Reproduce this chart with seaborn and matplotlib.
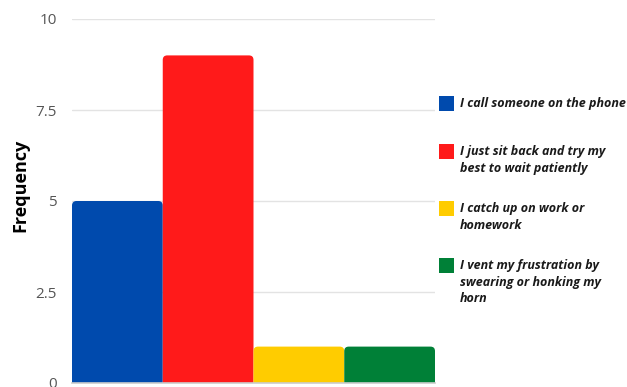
import matplotlib
matplotlib.use("Agg")
import matplotlib.pyplot as plt
from matplotlib.patches import FancyBboxPatch, Rectangle
import seaborn as sns
import pandas as pd

responses = [
    "I call someone on the phone",
    "I just sit back and try my\nbest to wait patiently",
    "I catch up on work or\nhomework",
    "I vent my frustration by\nswearing or honking my\nhorn",
]
frequency = [5, 9, 1, 1]
colors = ["#004aad", "#ff1a1a", "#ffcc00", "#008037"]
y_ticks = [0, 2.5, 5, 7.5, 10]
y_tick_labels = ["0", "2.5", "5", "7.5", "10"]

sns.set_theme(style="white")
plt.rcParams["font.family"] = ["Open Sans", "DejaVu Sans"]

W, H = 627, 387
fig = plt.figure(figsize=(W / 100, H / 100), dpi=100)
ax = fig.add_axes([72 / W, (H - 383) / H, (435 - 72) / W, (383 - 19) / H])

df = pd.DataFrame({"response": responses, "frequency": frequency})
sns.barplot(data=df, x="response", y="frequency", hue="response",
            palette=colors, width=1.0, legend=False, ax=ax, saturation=1)

ax.set_ylim(0, 10)
ax.set_xlim(-0.5, len(responses) - 0.5)

# rounded top corners: swap each bar for a FancyBboxPatch that extends below 0
fig.canvas.draw()
bbox = ax.get_window_extent()
ux = (ax.get_xlim()[1] - ax.get_xlim()[0]) / bbox.width
uy = (ax.get_ylim()[1] - ax.get_ylim()[0]) / bbox.height
radius_px = 4.5
for bar, col in zip(list(ax.patches), colors):
    x0, w, h = bar.get_x(), bar.get_width(), bar.get_height()
    bar.remove()
    ext = radius_px * 2 * uy
    rb = FancyBboxPatch((x0, -ext), w, h + ext,
                        boxstyle=f"round,pad=0,rounding_size={radius_px * ux}",
                        mutation_aspect=uy / ux, facecolor=col, edgecolor="none",
                        zorder=2, clip_on=True)
    ax.add_patch(rb)

ax.set_yticks(y_ticks)
ax.set_yticklabels(y_tick_labels, color="#555555", fontsize=11)
ax.tick_params(axis="y", length=0, pad=11)
ax.set_xticks([])
ax.set_xlabel("")
ax.set_ylabel("")
for s in ["top", "right", "left"]:
    ax.spines[s].set_visible(False)
ax.spines["bottom"].set_color("#cccccc")
ax.spines["bottom"].set_linewidth(1.2)
ax.spines["bottom"].set_zorder(3)
for t in y_ticks[1:]:
    ax.axhline(t, color="#e3e3e3", linewidth=1, zorder=0)

fig.text(20 / W, (H - 185) / H, "Frequency", rotation=90, fontsize=13,
         fontweight="bold", color="black", ha="center", va="center")

# legend: colored squares with bold italic labels
legend_tops = [96, 144, 201, 258]
for lbl, col, top in zip(responses, colors, legend_tops):
    fig.patches.append(Rectangle((439 / W, (H - top - 15) / H), 15 / W, 15 / H,
                                 transform=fig.transFigure, facecolor=col,
                                 edgecolor="none"))
    fig.text(460 / W, (H - top - 1) / H, lbl, fontsize=9, fontweight="bold",
             fontstyle="italic", color="#1a1a1a", va="top", ha="left",
             linespacing=1.37)

fig.savefig("out.png", dpi=100)
